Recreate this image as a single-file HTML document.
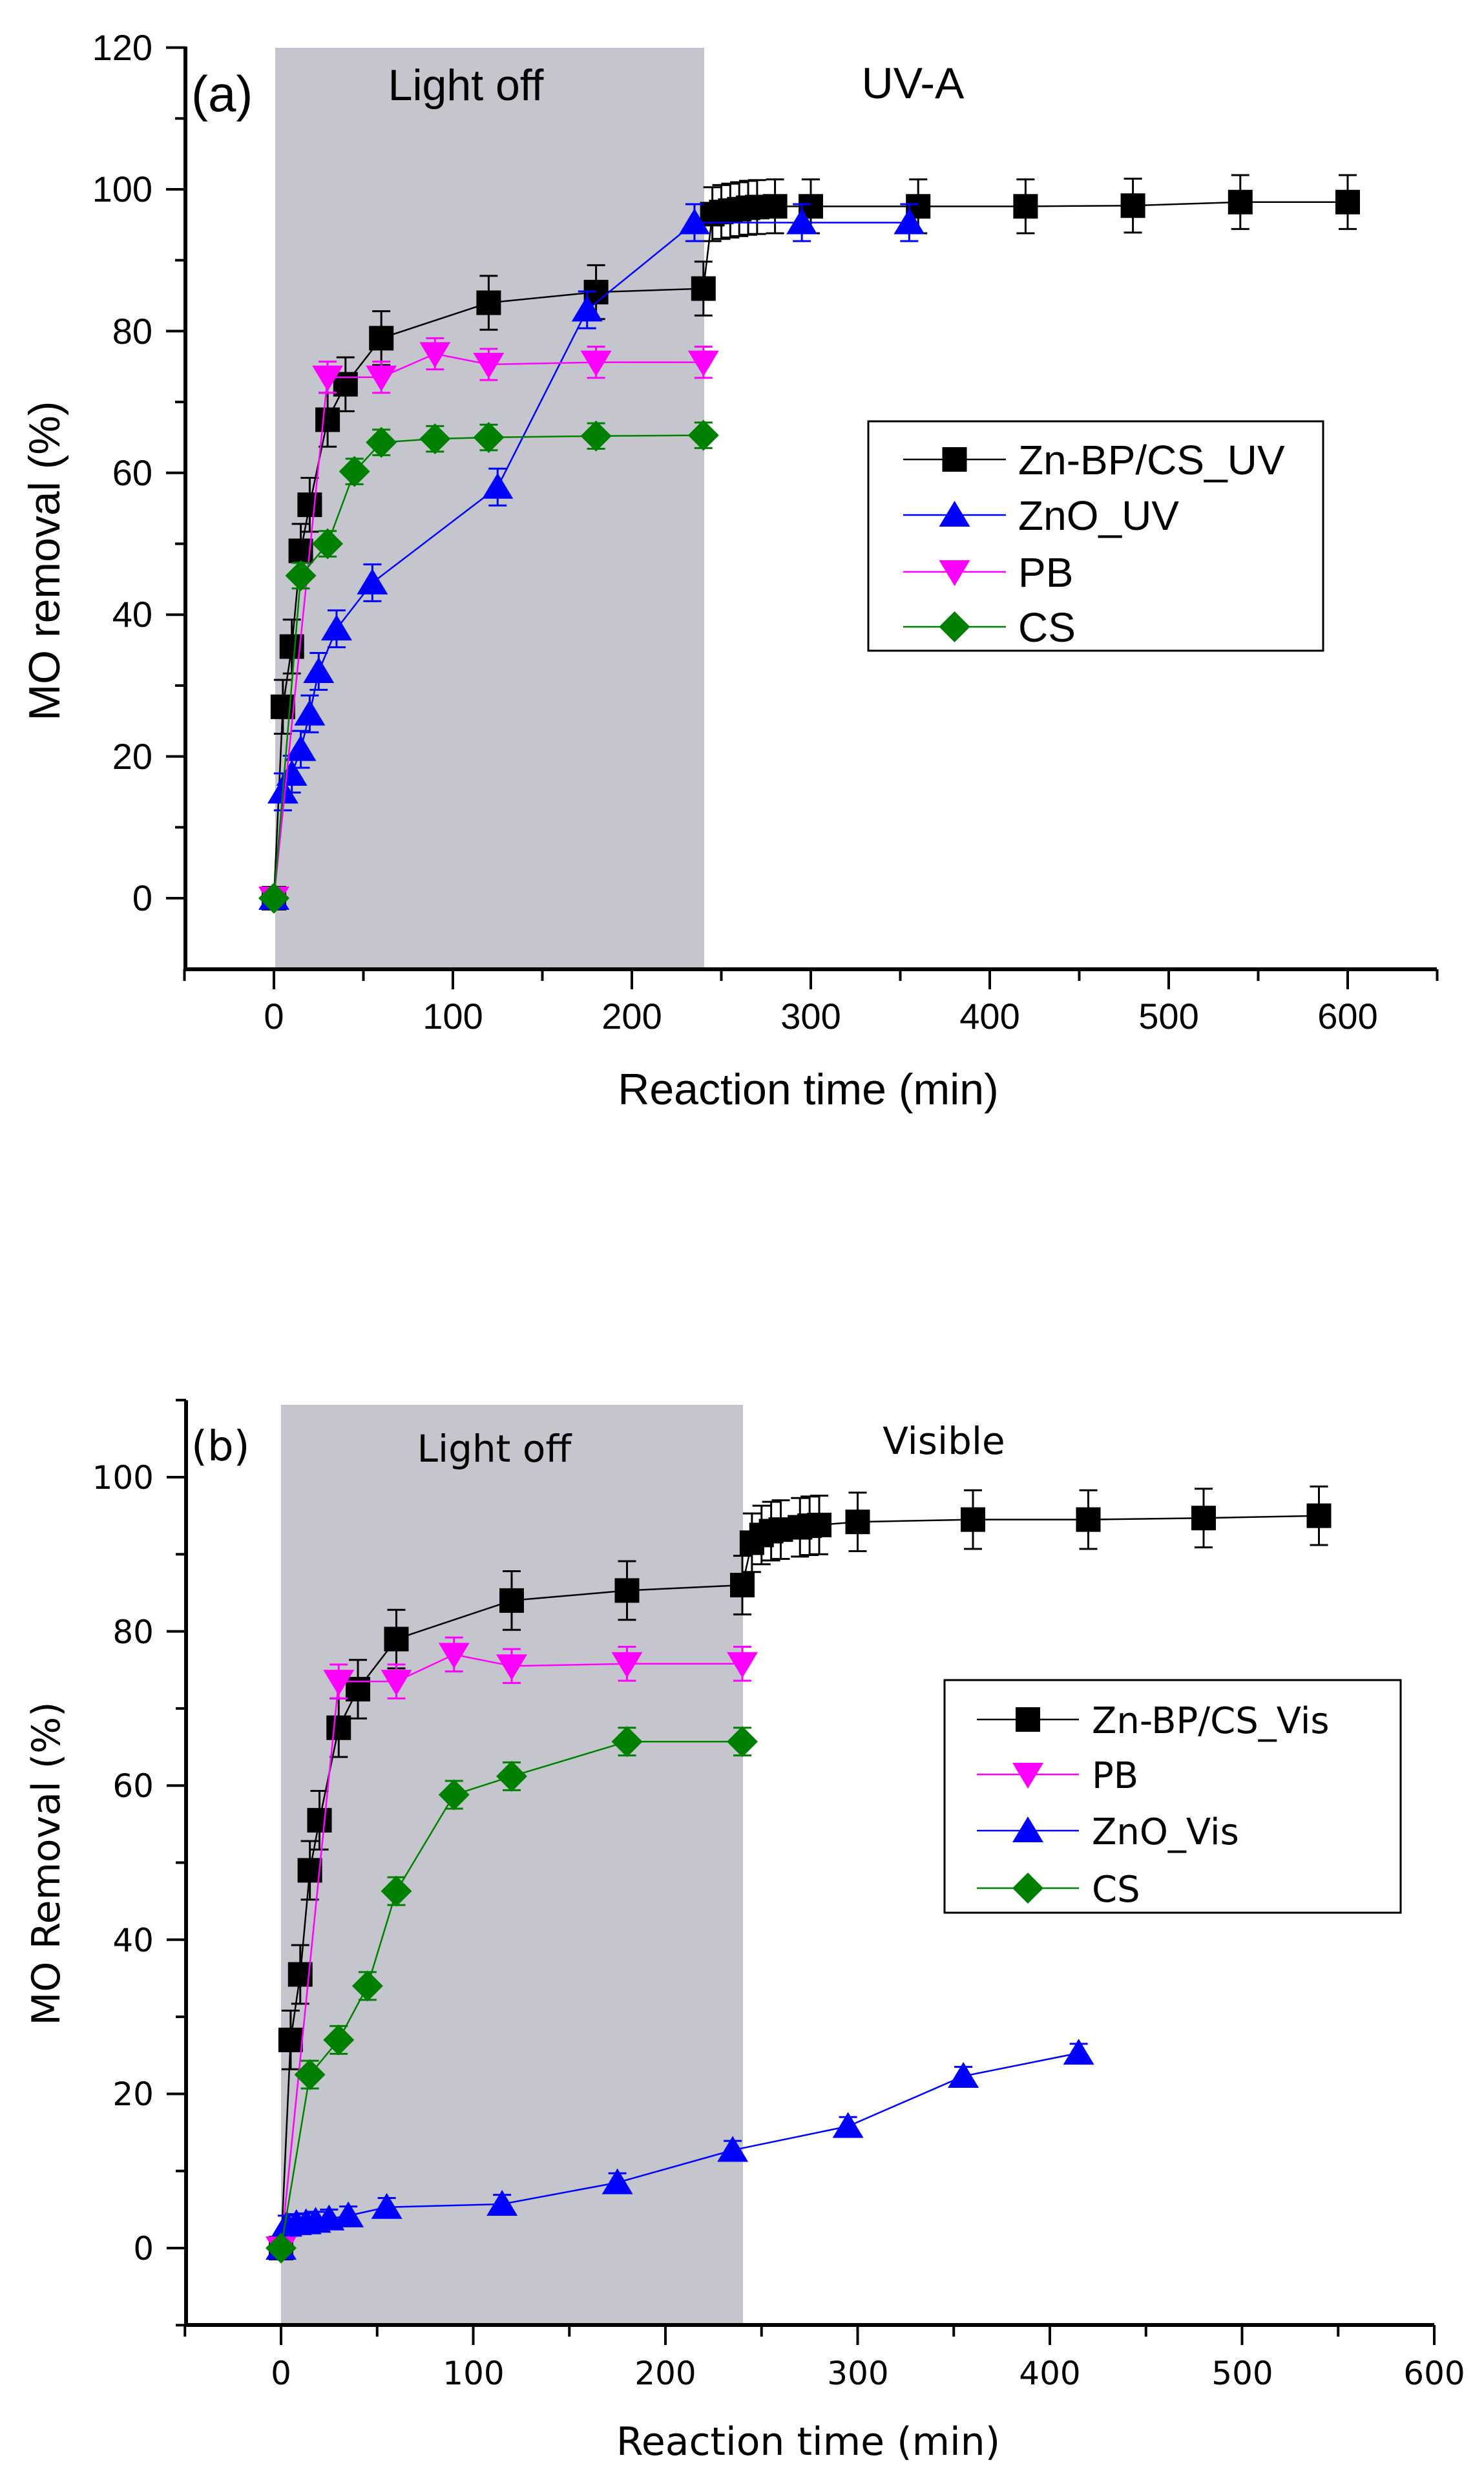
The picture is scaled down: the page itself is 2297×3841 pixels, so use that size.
<!DOCTYPE html>
<html><head><meta charset="utf-8"><style>
html,body{margin:0;padding:0;background:#fff;}
svg{display:block;}
.a{font-family:"Liberation Sans",Arial,sans-serif;}
.b{font-family:"DejaVu Sans","Liberation Sans",sans-serif;}
</style></head><body>
<svg id="s" width="2297" height="3841" xmlns="http://www.w3.org/2000/svg">
<rect width="2297" height="3841" fill="#fff"/>
<rect x="426" y="74" width="664" height="1426" fill="#c5c6cd"/>
<rect x="435" y="2174" width="715" height="1424" fill="#c5c6cd"/>
<g id="g"></g>
<g class="a" fill="#000">
<text x="296" y="172" font-size="78">(a)</text>
<text x="721" y="155" font-size="68" text-anchor="middle">Light off</text>
<text x="1413" y="152" font-size="68" text-anchor="middle">UV-A</text>
<g font-size="56" text-anchor="end">
<text x="236" y="93">120</text><text x="236" y="312">100</text><text x="236" y="532">80</text>
<text x="236" y="751">60</text><text x="236" y="970">40</text><text x="236" y="1190">20</text><text x="236" y="1409">0</text>
</g>
<g font-size="56" text-anchor="middle">
<text x="424" y="1592">0</text><text x="701" y="1592">100</text><text x="978" y="1592">200</text>
<text x="1255" y="1592">300</text><text x="1532" y="1592">400</text><text x="1809" y="1592">500</text><text x="2086" y="1592">600</text>
</g>
<text x="1251" y="1709" font-size="68" text-anchor="middle">Reaction time (min)</text>
<text transform="translate(92,868) rotate(-90)" font-size="68" text-anchor="middle">MO removal (%)</text>
<g font-size="64">
<text x="1576" y="734">Zn-BP/CS_UV</text><text x="1576" y="820">ZnO_UV</text>
<text x="1576" y="908">PB</text><text x="1576" y="993">CS</text>
</g>
</g>
<rect x="1344" y="652" width="704" height="355" fill="none" stroke="#000" stroke-width="3"/>
<g class="b" fill="#000">
<text x="296" y="2260" font-size="64">(b)</text>
<text x="765" y="2262" font-size="58" text-anchor="middle">Light off</text>
<text x="1461" y="2250" font-size="58" text-anchor="middle">Visible</text>
<g font-size="50" text-anchor="end">
<text x="238" y="2304">100</text><text x="238" y="2543">80</text><text x="238" y="2781">60</text>
<text x="238" y="3020">40</text><text x="238" y="3258">20</text><text x="238" y="3497">0</text>
</g>
<g font-size="50" text-anchor="middle">
<text x="435" y="3690">0</text><text x="733" y="3690">100</text><text x="1030" y="3690">200</text>
<text x="1328" y="3690">300</text><text x="1625" y="3690">400</text><text x="1923" y="3690">500</text><text x="2220" y="3690">600</text>
</g>
<text x="1251" y="3799" font-size="60" text-anchor="middle">Reaction time (min)</text>
<text transform="translate(92,2884) rotate(-90)" font-size="60" text-anchor="middle">MO Removal (%)</text>
<g font-size="56">
<text x="1690" y="2682">Zn-BP/CS_Vis</text><text x="1690" y="2767">PB</text>
<text x="1690" y="2854">ZnO_Vis</text><text x="1690" y="2943">CS</text>
</g>
</g>
<rect x="1462" y="2600" width="706" height="360" fill="none" stroke="#000" stroke-width="3"/>
</svg>
<script>
var NS="http://www.w3.org/2000/svg",G=document.getElementById('g');
function el(t,a){var e=document.createElementNS(NS,t);for(var k in a)e.setAttribute(k,a[k]);G.appendChild(e);return e;}
function line(x1,y1,x2,y2,c,w){el('line',{x1:x1,y1:y1,x2:x2,y2:y2,stroke:c,'stroke-width':w});}
function marker(t,x,y,c,s){
 if(t=='sq')el('rect',{x:x-s/2,y:y-s/2,width:s,height:s,fill:c});
 else if(t=='up')el('polygon',{points:(x)+','+(y-s*0.55)+' '+(x-s*0.6)+','+(y+s*0.45)+' '+(x+s*0.6)+','+(y+s*0.45),fill:c});
 else if(t=='dn')el('polygon',{points:(x)+','+(y+s*0.55)+' '+(x-s*0.6)+','+(y-s*0.45)+' '+(x+s*0.6)+','+(y-s*0.45),fill:c});
 else el('polygon',{points:x+','+(y-s*0.6)+' '+(x+s*0.6)+','+y+' '+x+','+(y+s*0.6)+' '+(x-s*0.6)+','+y,fill:c});
}
function plot(P,series){
 line(P.ax,P.top,P.ax,P.bot,'#000',6);
 line(P.ax-3,P.bot,P.right,P.bot,'#000',6);
 for(var v=P.ymin;v<=P.ymax;v+=10){var y=P.y0-v*P.ys;var maj=(v%20==0);line(P.ax-(maj?30:16),y,P.ax,y,'#000',4);}
 for(var t=-50;t<=P.xmax;t+=50){var x=P.x0+t*P.xs;var maj=(t%100==0);line(x,P.bot,x,P.bot+(maj?31:18),'#000',4);}
 series.forEach(function(S){
  var pts=S.d.map(function(p){return [P.x0+p[0]*P.xs,P.y0-p[1]*P.ys];});
  el('polyline',{points:pts.map(function(p){return p.join(',')}).join(' '),fill:'none',stroke:S.c,'stroke-width':2.5});
  S.d.forEach(function(p,i){
   var x=pts[i][0],y=pts[i][1],e=(p[0]==0?0:S.e)*P.ys;
   if(e>0){line(x,y-e,x,y+e,S.c,3);line(x-14,y-e,x+14,y-e,S.c,3);line(x-14,y+e,x+14,y+e,S.c,3);}
   marker(S.m,x,y,S.c,S.s);
  });
 });
 P.leg.forEach(function(L,i){var S=series[L];var y=P.ly[i];line(P.lx1,y,P.lx2,y,S.c,2.5);marker(S.m,(P.lx1+P.lx2)/2,y,S.c,S.s);});
}
var A={ax:287,top:72,bot:1500,right:2224,x0:424,xs:2.77,y0:1390,ys:10.97,ymin:0,ymax:120,xmax:650,
 lx1:1398,lx2:1557,ly:[711,797,885,970],leg:[0,1,2,3]};
plot(A,[
 {c:'#000',m:'sq',s:38,e:3.8,d:[[0,0],[5,27],[10,35.5],[15,49],[20,55.5],[30,67.5],[40,72.5],[60,79],[120,84],[180,85.5],[240,86],[245,96.5],[250,96.8],[255,97],[260,97.2],[265,97.4],[270,97.5],[280,97.6],[300,97.6],[360,97.6],[420,97.6],[480,97.7],[540,98.2],[600,98.2]]},
 {c:'#0000ff',m:'up',s:40,e:2.6,d:[[0,0],[5,15],[10,17.5],[15,21],[20,26],[25,32],[35,38],[55,44.5],[125,58],[175,83],[235,95.3],[295,95.3],[355,95.3]]},
 {c:'#ff00ff',m:'dn',s:40,e:2.2,d:[[0,0],[30,73.5],[60,73.5],[90,76.8],[120,75.3],[180,75.6],[240,75.6]]},
 {c:'#008000',m:'di',s:40,e:1.8,d:[[0,0],[15,45.5],[30,50],[45,60.2],[60,64.3],[90,64.8],[120,65],[180,65.2],[240,65.3]]}
]);
var B={ax:288,top:2167,bot:3598,right:2220,x0:435,xs:2.975,y0:3479,ys:11.93,ymin:-10,ymax:110,xmax:600,
 lx1:1512,lx2:1670,ly:[2661,2746,2833,2922],leg:[0,1,2,3]};
plot(B,[
 {c:'#000',m:'sq',s:38,e:3.8,d:[[0,0],[5,27],[10,35.5],[15,49],[20,55.5],[30,67.5],[40,72.5],[60,79],[120,84],[180,85.3],[240,86],[245,91.5],[250,92.5],[255,93],[260,93.2],[270,93.5],[275,93.7],[280,93.8],[300,94.2],[360,94.5],[420,94.5],[480,94.7],[540,95]]},
 {c:'#ff00ff',m:'dn',s:40,e:2.2,d:[[0,0],[30,73.5],[60,73.5],[90,77],[120,75.5],[180,75.8],[240,75.8]]},
 {c:'#0000ff',m:'up',s:40,e:1.2,d:[[0,0],[3,3],[8,3.2],[13,3.3],[18,3.5],[25,3.8],[35,4.2],[55,5.3],[115,5.7],[175,8.5],[235,12.7],[295,15.8],[355,22.3],[415,25.3]]},
 {c:'#008000',m:'di',s:40,e:1.8,d:[[0,0],[15,22.5],[30,27],[45,34],[60,46.3],[90,58.8],[120,61.2],[180,65.7],[240,65.7]]}
]);
</script>
</body></html>
